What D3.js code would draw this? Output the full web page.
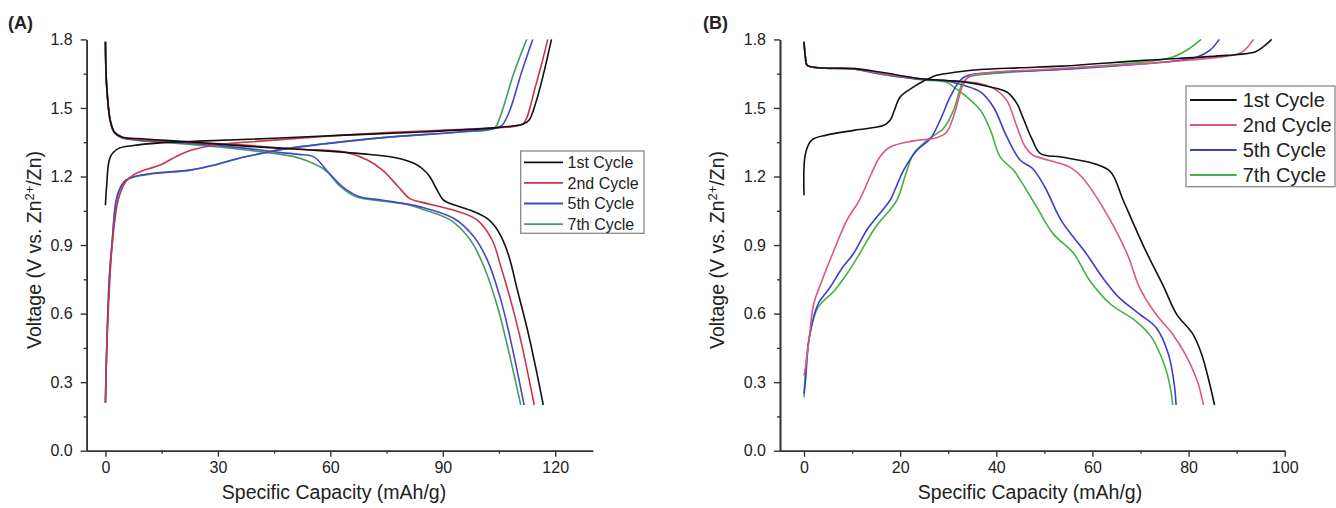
<!DOCTYPE html>
<html>
<head>
<meta charset="utf-8">
<script src="https://cdn.jsdelivr.net/npm/d3@7"></script>
<style>
body { margin: 0; background: #fff; }
text { font-family: "Liberation Sans", Arial, sans-serif; fill: #222; }
</style>
</head>
<body>
<div id="chart"></div>
<script>
var w = 1336;
var h = 508;

var cycles = ["1st Cycle", "2nd Cycle", "5th Cycle", "7th Cycle"];
var colorsA = ["#111111", "#c8354b", "#4646c8", "#3f9f62"];
var colorsB = ["#111111", "#de5684", "#3d3dcc", "#45b042"];

// panel A: [capacity mAh/g, voltage V]
var aCharge1 = [[0,1.074],[0.3,1.154],[1.3,1.286],[3.4,1.322],[7.5,1.336],[14.6,1.347],[24.9,1.355],[43.3,1.366],[63.8,1.381],[84.3,1.395],[103.8,1.413],[109,1.422],[111.5,1.430],[113,1.446],[115,1.533],[117.1,1.664],[119,1.8]];
var aDischarge1 = [[0,1.79],[0.3,1.606],[1.3,1.445],[2.4,1.395],[4.4,1.373],[8.5,1.366],[22.8,1.351],[38.2,1.332],[53.6,1.317],[68.9,1.299],[77.1,1.283],[82.3,1.258],[84.5,1.235],[86.5,1.2],[88.5,1.14],[90,1.10],[91.5,1.085],[97.4,1.052],[101.9,1.016],[103.8,0.985],[105.5,0.94],[107.7,0.848],[109.9,0.703],[112.6,0.528],[115.3,0.324],[116.8,0.2]];
var aCharge2 = [[0,0.21],[0.3,0.423],[1.3,0.787],[1.8,0.899],[3.4,1.097],[5.4,1.177],[7.5,1.207],[10.6,1.229],[14.6,1.250],[18.7,1.286],[22.8,1.315],[29,1.337],[38.2,1.351],[53.6,1.370],[74,1.391],[103.8,1.413],[109.9,1.421],[111.5,1.432],[112.5,1.46],[114.5,1.58],[116.5,1.70],[118,1.8]];
var aDischarge2 = [[0,1.79],[0.3,1.606],[1.3,1.445],[2.4,1.395],[4.4,1.372],[8.5,1.362],[22.8,1.348],[33,1.343],[43.3,1.329],[53.6,1.318],[63.8,1.307],[70,1.271],[74,1.227],[78.2,1.154],[81.2,1.103],[84,1.089],[93,1.052],[99.2,1.009],[103.2,0.921],[105.5,0.805],[108.1,0.659],[110.8,0.484],[114.4,0.2]];
var aCharge5 = [[0,0.21],[0.3,0.42],[1.0,0.75],[1.8,0.92],[2.9,1.10],[4.4,1.165],[5.5,1.185],[7.5,1.199],[12.6,1.214],[22.8,1.229],[29,1.250],[35.1,1.278],[41.3,1.300],[48.5,1.322],[58.7,1.343],[74,1.370],[94.6,1.395],[103.8,1.410],[105.8,1.424],[107.9,1.49],[110.9,1.65],[114,1.8]];
var aDischarge5 = [[0,1.79],[0.3,1.60],[1.3,1.44],[2.4,1.39],[4.4,1.37],[8.5,1.36],[22.8,1.345],[38.2,1.322],[45.4,1.307],[51.5,1.297],[55.6,1.286],[59.7,1.214],[63.8,1.148],[67.9,1.111],[74,1.096],[84,1.067],[93,1.016],[98.3,0.936],[101.9,0.834],[105.5,0.659],[108.1,0.484],[111.7,0.2]];
var aCharge7 = [[0,0.21],[0.3,0.42],[1.0,0.74],[1.8,0.91],[2.9,1.09],[4.4,1.16],[5.5,1.182],[7.5,1.197],[12.6,1.212],[22.8,1.228],[29,1.249],[35.1,1.277],[41.3,1.300],[48.5,1.323],[58.7,1.344],[74,1.370],[94.6,1.395],[103.8,1.413],[105.3,1.461],[108.9,1.65],[112.4,1.8]];
var aDischarge7 = [[0,1.79],[0.3,1.60],[1.3,1.44],[2.4,1.39],[4.4,1.37],[8.5,1.358],[22.8,1.34],[38.2,1.315],[45.4,1.300],[50.5,1.286],[53.6,1.270],[58.7,1.227],[62.8,1.154],[66.9,1.111],[72,1.096],[80.2,1.079],[84,1.060],[92.1,1.009],[97.4,0.921],[101,0.805],[104.6,0.630],[107.3,0.455],[110.8,0.2]];

// panel B
var bCharge1 = [[0,1.118],[0.3,1.30],[1.6,1.359],[4.6,1.381],[10.6,1.403],[16.6,1.424],[17.9,1.446],[18.8,1.49],[20,1.548],[22.8,1.592],[24.9,1.618],[27.6,1.643],[31.8,1.657],[36.7,1.668],[45,1.676],[53.5,1.683],[70.7,1.708],[87.8,1.730],[93.8,1.745],[95.5,1.767],[97.3,1.8]];
var bDischarge1 = [[0,1.79],[0.3,1.72],[0.7,1.686],[10.6,1.672],[15.8,1.657],[24.3,1.628],[29.7,1.62],[33.2,1.614],[38.8,1.592],[42.2,1.570],[44.3,1.519],[45.5,1.46],[47.5,1.36],[49.2,1.300],[53.5,1.285],[60.4,1.256],[63.8,1.220],[66.4,1.096],[70.7,0.892],[74.9,0.714],[77.5,0.598],[80.9,0.510],[82.7,0.423],[84.4,0.292],[85.4,0.2]];
var bCharge2 = [[0,0.33],[0.3,0.365],[1.1,0.496],[2,0.641],[3.7,0.743],[5.9,0.860],[8.9,1.008],[11.5,1.096],[14,1.212],[15.8,1.286],[17.9,1.329],[22.8,1.356],[27.6,1.370],[29.7,1.395],[31.5,1.490],[32.9,1.592],[34.2,1.635],[36.7,1.650],[53.5,1.672],[79.3,1.708],[90.4,1.737],[92,1.76],[93.5,1.8]];
var bDischarge2 = [[0,1.79],[0.3,1.72],[0.7,1.686],[10.6,1.672],[15.8,1.652],[24.3,1.628],[29.7,1.62],[36.7,1.606],[40.1,1.577],[42.2,1.533],[44.3,1.417],[46,1.33],[47.5,1.295],[50.9,1.271],[55.2,1.242],[57.8,1.198],[62.1,1.067],[67.2,0.863],[69.8,0.714],[73.2,0.598],[76.7,0.510],[79.3,0.423],[81.8,0.306],[83.1,0.2]];
var bCharge5 = [[0,0.25],[0.3,0.306],[1.1,0.496],[2.9,0.641],[5.4,0.714],[8,0.802],[10.2,0.860],[13.2,0.97],[16.6,1.06],[17.9,1.096],[20.7,1.227],[23.5,1.315],[26.3,1.366],[28.3,1.446],[30.4,1.548],[32.5,1.621],[34.2,1.643],[53.5,1.668],[74.9,1.701],[81.8,1.723],[84.4,1.752],[86.4,1.8]];
var bDischarge5 = [[0,1.79],[0.3,1.72],[0.7,1.686],[10.6,1.670],[15.8,1.65],[24.3,1.626],[29.7,1.618],[33.2,1.599],[36.7,1.570],[39.4,1.504],[42.2,1.373],[45,1.271],[47.5,1.236],[50.1,1.154],[53.5,1.008],[58.7,0.863],[62.1,0.758],[65.5,0.671],[69.8,0.598],[73.2,0.540],[75.8,0.423],[77.1,0.277],[77.4,0.2]];
var bCharge7 = [[0,0.233],[0.3,0.350],[1.1,0.496],[2.9,0.627],[6.3,0.700],[8.9,0.773],[11.5,0.860],[14.9,0.979],[19.3,1.096],[21,1.2],[22.8,1.300],[25.6,1.359],[29,1.410],[31.1,1.490],[32.9,1.606],[34.2,1.635],[36.7,1.645],[53.5,1.672],[70.7,1.701],[76.7,1.723],[80.1,1.759],[82.6,1.8]];
var bDischarge7 = [[0,1.79],[0.3,1.72],[0.7,1.686],[10.6,1.670],[15.8,1.648],[24.3,1.624],[29.7,1.612],[31.1,1.592],[33.9,1.548],[36.7,1.490],[38.8,1.402],[40.8,1.286],[43.6,1.227],[45,1.184],[48.4,1.067],[51.8,0.950],[56.1,0.863],[59.5,0.743],[63.8,0.641],[68.9,0.569],[72.3,0.496],[74.9,0.379],[76.2,0.277],[76.7,0.2]];

var yTicks = [0, 0.3, 0.6, 0.9, 1.2, 1.5, 1.8];
var yMinor = [0.15, 0.45, 0.75, 1.05, 1.35, 1.65];
var xTicksA = [0, 30, 60, 90, 120];
var xMinorA = [15, 45, 75, 105];
var xTicksB = [0, 20, 40, 60, 80, 100];
var xMinorB = [10, 30, 50, 70, 90];

var svg = d3.select("#chart")
	.append("svg")
	.attr("width", w)
	.attr("height", h);

function panel(opt) {
	var x = d3.scaleLinear().domain(opt.xDomain).range(opt.xRange);
	var y = d3.scaleLinear().domain([0, 1.8]).range([450.7, 39.4]);

	var line = d3.line()
		.x(function (d) { return x(d[0]); })
		.y(function (d) { return y(d[1]); })
		.curve(d3.curveCatmullRom.alpha(0.5));

	// curves: draw in reverse so black sits on top
	for (var i = opt.series.length - 1; i >= 0; i--) {
		opt.series[i].forEach(function (s) {
			svg.append("path")
				.attr("d", line(s))
				.attr("fill", "none")
				.attr("stroke", opt.colors[i])
				.attr("stroke-width", 1.6);
		});
	}

	// axes
	svg.append("g")
		.attr("transform", "translate(0," + y(0) + ")")
		.call(d3.axisBottom(x).tickValues(opt.xTicks).tickSize(6).tickSizeOuter(0).tickPadding(5).tickFormat(d3.format("d")));
	svg.append("g")
		.attr("transform", "translate(0," + y(0) + ")")
		.call(d3.axisBottom(x).tickValues(opt.xMinor).tickSize(3).tickSizeOuter(0).tickFormat(""));
	svg.append("g")
		.attr("transform", "translate(" + x(opt.xDomain[0]) + ",0)")
		.call(d3.axisLeft(y).tickValues(yTicks).tickSize(6).tickSizeOuter(0).tickPadding(8).tickFormat(d3.format(".1f")));
	svg.append("g")
		.attr("transform", "translate(" + x(opt.xDomain[0]) + ",0)")
		.call(d3.axisLeft(y).tickValues(yMinor).tickSize(3).tickSizeOuter(0).tickFormat(""));

	svg.selectAll(".domain").attr("stroke", "#333").attr("stroke-width", 1.6);
	svg.selectAll(".tick line").attr("stroke", "#333").attr("stroke-width", 1.4);
	svg.selectAll(".tick text")
		.attr("font-size", "16px")
		.attr("font-family", "Liberation Sans, Arial, sans-serif")
		.attr("fill", "#222");

	// axis titles
	svg.append("text")
		.attr("x", opt.xTitleX)
		.attr("y", 499)
		.attr("text-anchor", "middle")
		.attr("font-size", "19.5px")
		.text("Specific Capacity (mAh/g)");

	var yt = svg.append("text")
		.attr("transform", "translate(" + opt.yTitleX + ",250) rotate(-90)")
		.attr("text-anchor", "middle")
		.attr("font-size", "19.5px");
	yt.append("tspan").text("Voltage (V vs. Zn");
	yt.append("tspan").attr("font-size", "13px").attr("dy", "-7").text("2+");
	yt.append("tspan").attr("dy", "7").text("/Zn)");

	// panel label
	svg.append("text")
		.attr("x", opt.labelX)
		.attr("y", 29)
		.attr("font-size", "18px")
		.attr("font-weight", "bold")
		.text(opt.label);

	// legend
	var L = opt.legend;
	svg.append("rect")
		.attr("x", L.x0).attr("y", L.y0)
		.attr("width", L.x1 - L.x0).attr("height", L.y1 - L.y0)
		.attr("fill", "#fff")
		.attr("stroke", "#888")
		.attr("stroke-width", 1.3);
	cycles.forEach(function (c, i) {
		var yy = L.rowY + i * L.step;
		svg.append("line")
			.attr("x1", L.lx0).attr("x2", L.lx1)
			.attr("y1", yy).attr("y2", yy)
			.attr("stroke", opt.colors[i])
			.attr("stroke-width", 1.8);
		svg.append("text")
			.attr("x", L.tx).attr("y", yy)
			.attr("dy", "0.35em")
			.attr("font-size", L.font)
			.text(c);
	});
}

panel({
	label: "(A)", labelX: 8,
	xDomain: [-5, 130], xRange: [86.7, 592.7],
	xTicks: xTicksA, xMinor: xMinorA,
	xTitleX: 334, yTitleX: 41,
	colors: colorsA,
	series: [[aCharge1, aDischarge1], [aCharge2, aDischarge2], [aCharge5, aDischarge5], [aCharge7, aDischarge7]],
	legend: { x0: 520.7, x1: 644, y0: 151, y1: 233.3, lx0: 524, lx1: 563, tx: 567.5, rowY: 162.3, step: 20.6, font: "16px" }
});

panel({
	label: "(B)", labelX: 703,
	xDomain: [-5, 100], xRange: [780, 1284.7],
	xTicks: xTicksB, xMinor: xMinorB,
	xTitleX: 1030, yTitleX: 724,
	colors: colorsB,
	series: [[bCharge1, bDischarge1], [bCharge2, bDischarge2], [bCharge5, bDischarge5], [bCharge7, bDischarge7]],
	legend: { x0: 1186, x1: 1335, y0: 86, y1: 186.7, lx0: 1190, lx1: 1236.7, tx: 1242.7, rowY: 100, step: 25, font: "20px" }
});
</script>
</body>
</html>
